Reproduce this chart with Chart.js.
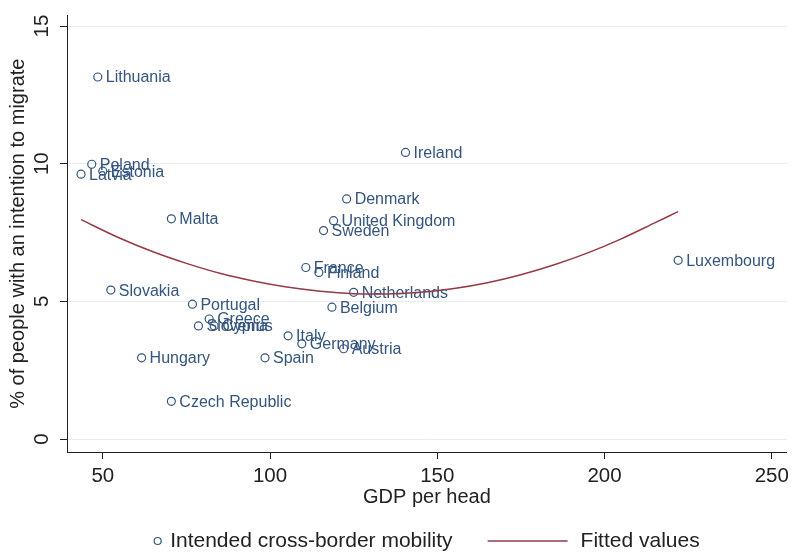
<!DOCTYPE html>
<html>
<head>
<meta charset="utf-8">
<script src="https://cdn.jsdelivr.net/npm/chart.js@4.4.1/dist/chart.umd.min.js"></script>
<style>
  html, body { margin: 0; padding: 0; background: #fff; }
</style>
</head>
<body>
<canvas id="chart" width="794" height="555"></canvas>
<script>
// EU countries: GDP per head (EU = 100) vs share intending to move abroad
const countries = [
  "Lithuania", "Ireland", "Poland", "Estonia", "Latvia", "Denmark", "Malta",
  "United Kingdom", "Sweden", "France", "Finland", "Luxembourg", "Netherlands",
  "Slovakia", "Belgium", "Portugal", "Greece", "Slovenia", "Cyprus", "Italy",
  "Germany", "Austria", "Hungary", "Spain", "Czech Republic"
];
const gdpPerHead = [
  48.5, 140.5, 46.7, 50.0, 43.5, 122.9, 70.5,
  119.0, 116.0, 110.7, 114.6, 222.0, 125.0,
  52.4, 118.5, 76.8, 81.8, 78.6, 83.3, 105.4,
  109.5, 122.0, 61.6, 98.5, 70.5
];
const migrateShare = [
  13.15, 10.41, 9.98, 9.73, 9.62, 8.72, 8.0,
  7.93, 7.57, 6.23, 6.05, 6.49, 5.33,
  5.41, 4.79, 4.90, 4.36, 4.11, 4.11, 3.75,
  3.46, 3.28, 2.95, 2.95, 1.37
];

// quadratic fit
const fitGdp = [43.5, 55, 65, 75, 85, 95, 105, 115, 125, 135, 145, 155, 165, 175, 185, 195, 205, 215, 222];
const fitValues = [7.97, 7.30, 6.80, 6.38, 6.02, 5.74, 5.52, 5.37, 5.28, 5.27, 5.33, 5.47, 5.68, 5.97, 6.33, 6.76, 7.27, 7.85, 8.26];

const xTicks = [50, 100, 150, 200, 250];
const yTicks = [0, 5, 10, 15];

const navy = "#34557d";
const maroon = "#963a44";
const ink = "#222";
const family = "'Liberation Sans', Arial, sans-serif";

const pointNames = {
  id: "pointNames",
  beforeDatasetsDraw(chart) {
    const ctx = chart.ctx;
    const meta = chart.getDatasetMeta(1);
    ctx.save();
    ctx.font = "16px " + family;
    ctx.fillStyle = navy;
    ctx.textBaseline = "middle";
    meta.data.forEach((pt, i) => ctx.fillText(countries[i], pt.x + 8, pt.y + 1));
    ctx.restore();
  }
};

// y tick labels turned upright along the axis, centred on each tick
const uprightTicks = {
  id: "uprightTicks",
  afterDraw(chart) {
    const ctx = chart.ctx;
    const scale = chart.scales.y;
    ctx.save();
    ctx.font = "20.5px " + family;
    ctx.fillStyle = ink;
    ctx.textAlign = "center";
    ctx.textBaseline = "middle";
    scale.ticks.forEach((t) => {
      ctx.save();
      ctx.translate(42, scale.getPixelForValue(t.value));
      ctx.rotate(-Math.PI / 2);
      ctx.fillText(String(t.value), 0, 0);
      ctx.restore();
    });
    ctx.restore();
  }
};

const bottomKey = {
  id: "bottomKey",
  afterDraw(chart) {
    const ctx = chart.ctx;
    const t1 = "Intended cross-border mobility";
    const t2 = "Fitted values";
    ctx.save();
    ctx.font = "21px " + family;
    const w1 = ctx.measureText(t1).width;
    const w2 = ctx.measureText(t2).width;
    const total = 4 + 12 + w1 + 35 + 80 + 13 + w2;
    const area = chart.chartArea;
    let x = (area.left + area.right) / 2 - total / 2;
    const y = 541;
    ctx.strokeStyle = navy;
    ctx.lineWidth = 1.2;
    ctx.beginPath();
    ctx.arc(x + 3.5, y, 3.5, 0, Math.PI * 2);
    ctx.stroke();
    x += 16;
    ctx.fillStyle = ink;
    ctx.textBaseline = "middle";
    ctx.fillText(t1, x, y);
    x += w1 + 35;
    ctx.strokeStyle = maroon;
    ctx.lineWidth = 1.5;
    ctx.beginPath();
    ctx.moveTo(x, y);
    ctx.lineTo(x + 80, y);
    ctx.stroke();
    x += 93;
    ctx.fillText(t2, x, y);
    ctx.restore();
  }
};

new Chart(document.getElementById("chart"), {
  type: "scatter",
  data: {
    datasets: [
      {
        label: "Fitted values",
        data: fitGdp.map((x, i) => ({ x, y: fitValues[i] })),
        showLine: true,
        borderColor: maroon,
        borderWidth: 1.5,
        pointRadius: 0,
        tension: 0.3,
        fill: false,
      },
      {
        label: "Intended cross-border mobility",
        data: gdpPerHead.map((x, i) => ({ x, y: migrateShare[i] })),
        pointRadius: 4,
        pointBorderWidth: 1.2,
        pointBorderColor: navy,
        pointBackgroundColor: "rgba(0,0,0,0)",
      },
    ],
  },
  options: {
    responsive: false,
    animation: false,
    devicePixelRatio: 1,
    layout: { padding: { left: 0, top: 12, right: 4, bottom: 0 } },
    plugins: { legend: { display: false }, tooltip: { enabled: false } },
    scales: {
      x: {
        type: "linear",
        min: 39.3,
        max: 254.5,
        afterBuildTicks: (s) => { s.ticks = xTicks.map((v) => ({ value: v })); },
        afterFit: (s) => { s.height = 103; },
        grid: { drawOnChartArea: false, tickLength: 7, tickColor: ink },
        border: { color: ink, width: 1 },
        ticks: { font: { size: 20.5, family }, color: ink, padding: 5, maxRotation: 0 },
        title: {
          display: true,
          text: "GDP per head",
          font: { size: 20, family },
          color: ink,
          padding: { top: 0, bottom: 46 },
        },
      },
      y: {
        min: -0.47,
        max: 15.39,
        afterBuildTicks: (s) => { s.ticks = yTicks.map((v) => ({ value: v })); },
        afterFit: (s) => { s.width = 67; },
        grid: { color: "#e8ebee", lineWidth: 1, tickLength: 7, tickColor: ink },
        border: { color: ink, width: 1 },
        ticks: { font: { size: 20.5, family }, color: "rgba(0,0,0,0)" },
        title: {
          display: true,
          text: "% of people with an intention to migrate",
          font: { size: 20, family },
          color: ink,
          padding: { top: 6, bottom: 0 },
        },
      },
    },
  },
  plugins: [pointNames, uprightTicks, bottomKey],
});
</script>
</body>
</html>
